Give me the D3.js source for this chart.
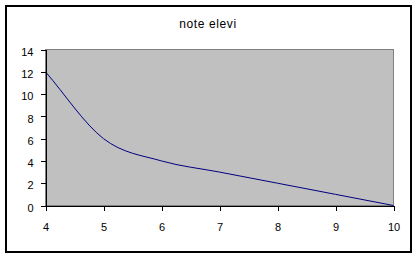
<!DOCTYPE html>
<html>
<head>
<meta charset="utf-8">
<script src="https://cdn.jsdelivr.net/npm/d3@7"></script>
<style>
  body { margin: 0; background: #fff; }
  svg { display: block; font-family: Arial, "Liberation Sans", sans-serif; }
  .axis path, .axis line { stroke: #000; shape-rendering: crispEdges; }
  .axis text { font-size: 11px; fill: #000; }
</style>
</head>
<body>
<div id="chart"></div>
<script>
const W = 420, H = 259;
const plot = { left: 45.5, right: 393.5, top: 49.5, bottom: 205.5 };

const grades = [4, 5, 6, 7, 8, 9, 10];
const students = [12, 6, 4, 3, 2, 1, 0];
const yTicks = [0, 2, 4, 6, 8, 10, 12, 14];
const title = "note elevi";

const svg = d3
  .select("#chart")
  .append("svg")
  .attr("width", W)
  .attr("height", H);

svg.append("rect").attr("width", W).attr("height", H).attr("fill", "#fff");

// outer chart border
svg
  .append("rect")
  .attr("x", 6)
  .attr("y", 6)
  .attr("width", 405)
  .attr("height", 246)
  .attr("fill", "none")
  .attr("stroke", "#000")
  .attr("stroke-width", 2);

const x = d3.scaleLinear().domain([4, 10]).range([plot.left, plot.right]);
const y = d3.scaleLinear().domain([0, 14]).range([plot.bottom, plot.top]);

// plot area
svg
  .append("rect")
  .attr("x", plot.left)
  .attr("y", plot.top)
  .attr("width", plot.right - plot.left)
  .attr("height", plot.bottom - plot.top)
  .attr("fill", "#c0c0c0")
  .attr("stroke", "#808080")
  .attr("stroke-width", 1);

// smoothed line, Excel style (cubic bezier, tangents from neighbours)
const pts = grades.map((g, i) => [x(g), y(students[i])]);
function tangent(i) {
  const n = pts.length;
  if (i === 0) return [pts[1][0] - pts[0][0], pts[1][1] - pts[0][1]];
  if (i === n - 1) return [pts[n - 1][0] - pts[n - 2][0], pts[n - 1][1] - pts[n - 2][1]];
  return [(pts[i + 1][0] - pts[i - 1][0]) / 2, (pts[i + 1][1] - pts[i - 1][1]) / 2];
}
const path = d3.path();
path.moveTo(pts[0][0], pts[0][1]);
for (let i = 0; i < pts.length - 1; i++) {
  const t0 = tangent(i), t1 = tangent(i + 1);
  path.bezierCurveTo(
    pts[i][0] + t0[0] / 3, pts[i][1] + t0[1] / 3,
    pts[i + 1][0] - t1[0] / 3, pts[i + 1][1] - t1[1] / 3,
    pts[i + 1][0], pts[i + 1][1]
  );
}
svg
  .append("path")
  .attr("d", path.toString())
  .attr("fill", "none")
  .attr("stroke", "#000080")
  .attr("stroke-width", 1);

// axes
const yAxis = svg
  .append("g")
  .attr("class", "axis")
  .attr("transform", `translate(${plot.left},0)`)
  .call(d3.axisLeft(y).tickValues(yTicks).tickSize(5).tickSizeOuter(0).tickPadding(7));
yAxis.selectAll("text").attr("dy", "0.52em");

const xAxis = svg
  .append("g")
  .attr("class", "axis")
  .attr("transform", `translate(0,${plot.bottom})`)
  .call(
    d3.axisBottom(x)
      .tickValues(grades)
      .tickFormat(d3.format("d"))
      .tickSize(5)
      .tickSizeOuter(0)
      .tickPadding(13)
  );

svg
  .append("text")
  .attr("x", 208)
  .attr("y", 28)
  .attr("text-anchor", "middle")
  .style("font-size", "12px")
  .style("letter-spacing", "0.6px")
  .text(title);
</script>
</body>
</html>
